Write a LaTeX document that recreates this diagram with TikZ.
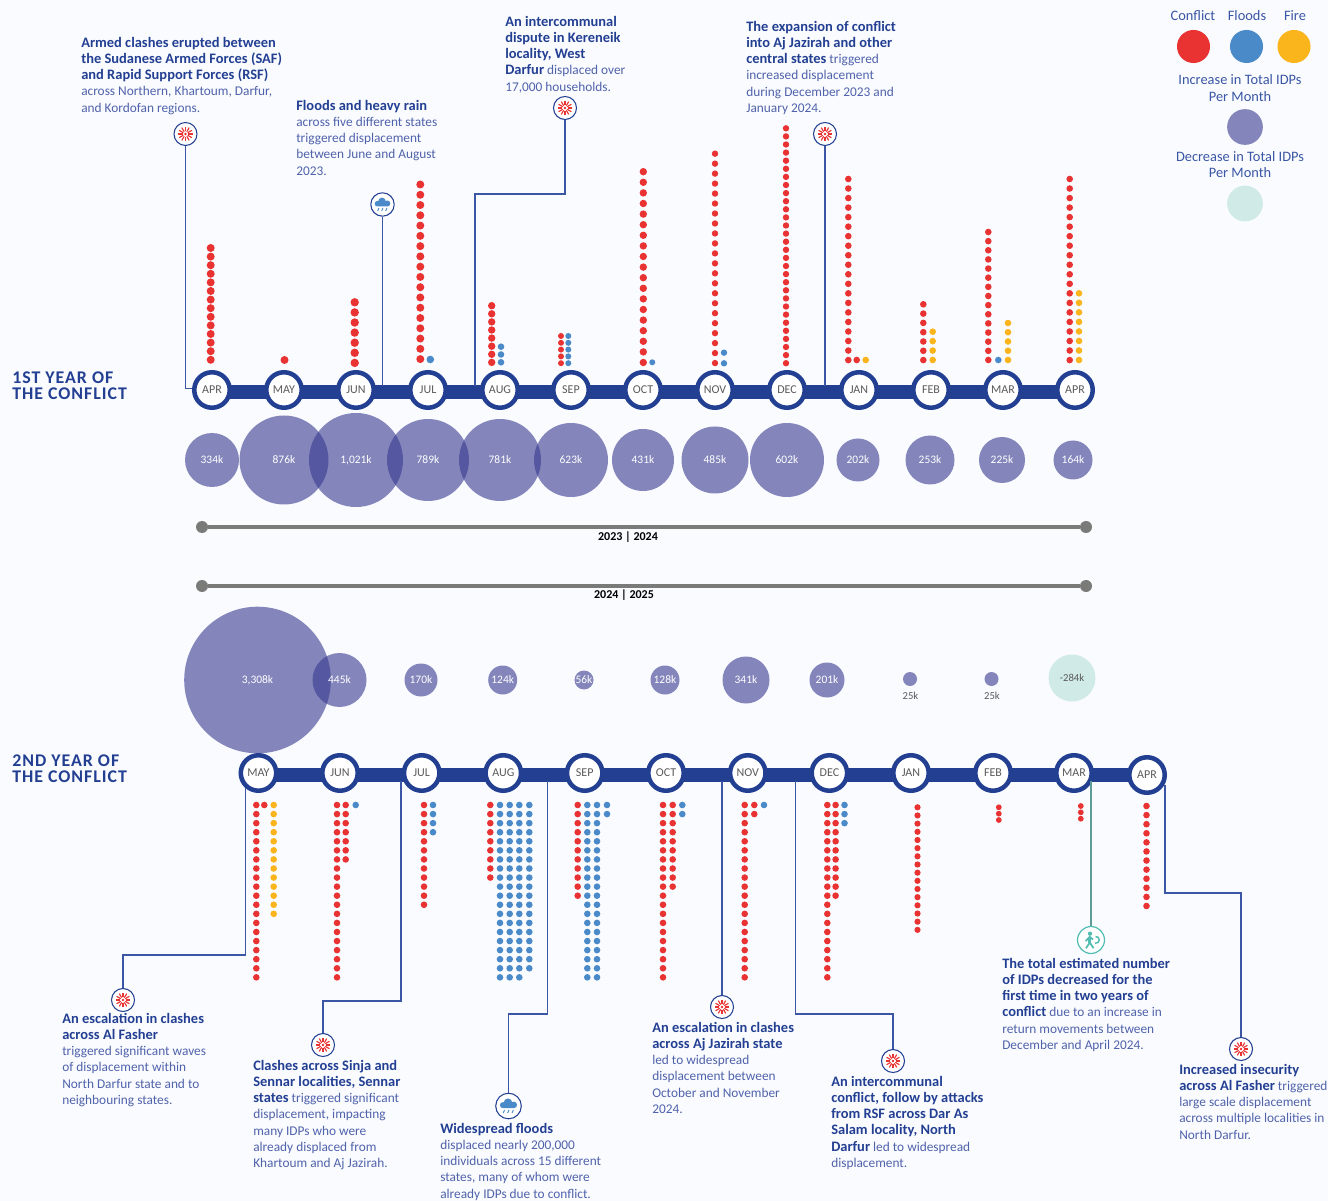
\documentclass[tikz,border=0pt]{standalone}
\usepackage{fontspec}
\setmainfont{Carlito}
\usetikzlibrary{backgrounds}
\definecolor{pagebg}{HTML}{F9FBFF}
\definecolor{navy}{HTML}{233F92}
\definecolor{bodyblue}{HTML}{5062AA}
\definecolor{linkblue}{HTML}{3A56A4}
\definecolor{bubble}{HTML}{36388F}
\definecolor{mint}{HTML}{CFEAE7}
\definecolor{teal1}{HTML}{5E9C9A}
\definecolor{teal2}{HTML}{52BDB0}
\definecolor{rd}{HTML}{E93333}
\definecolor{bl}{HTML}{4A8AC9}
\definecolor{yl}{HTML}{FAB41C}
\definecolor{graybar}{HTML}{7A7A78}
\definecolor{monthgray}{HTML}{5A5A5A}
\tikzset{
  x=0.75pt,y=-0.75pt,
  monthnode/.style={circle,draw=navy,line width=3.4pt,fill=white,minimum size=26.6pt,inner sep=0pt,text=monthgray,font=\fontsize{9}{10}\selectfont},
  barseg/.style={draw=navy,line width=10.2pt},
  bub/.style={circle,fill=bubble,fill opacity=.6,text opacity=1,text=white,minimum size={#1*1.5pt},inner sep=0pt,font=\fontsize{8.6}{10}\selectfont},
  conn/.style={draw=linkblue,line width=.9pt},
  connt/.style={draw=teal1,line width=1.3pt},
  iconnode/.style={circle,draw=navy,line width=.8pt,fill=white,minimum size={#1*1.5pt},inner sep=0pt},
  txt/.style={anchor=north west,inner sep=0pt,align=left,text=bodyblue,font=\fontsize{10}{12.2}\selectfont},
  head/.style={anchor=west,inner sep=0pt,align=left,text=navy,font=\fontsize{13.4}{12.2}\selectfont\bfseries\addfontfeatures{LetterSpace=5.5}},
  leg/.style={inner sep=0pt,align=center,text=linkblue,font=\fontsize{10.8}{12.4}\selectfont},
  yearbar/.style={draw=graybar,line width=3pt},
  yearend/.style={circle,fill=graybar,minimum size=9pt,inner sep=0pt},
  yearlab/.style={inner sep=0pt,text=black,font=\fontsize{9}{10}\selectfont\bfseries},
}
\newcommand{\B}[1]{{\fontsize{10.85}{12.2}\selectfont\bfseries\textcolor{navy}{#1}}}
\newcommand{\dotcol}[6]{\foreach \ii in {1,...,#4}{\fill[#6] (#1,{#2+(\ii-1)*#3}) circle[radius={#5*0.75pt}];}}
\newcommand{\bubb}[5]{\node[bub=#4] (#1) at (#2,#3) {\makebox[0pt]{#5}};}
\newcommand{\burst}[3]{\node[iconnode=11.5] (#1) at (#2,#3) {};
  \foreach \aa in {0,30,...,330}{\draw[rd,line width=.85pt] ([shift={(\aa:2.6)}]#1.center) -- ([shift={(\aa:7.4)}]#1.center);}
  \fill[rd] (#1.center) circle[radius=1pt];}
\newcommand{\rain}[5]{\node[iconnode=#4] (#1) at (#2,#3) {};
  \begin{scope}[shift={(#1.center)},scale=#5]
   \fill[bl] (-5,-.8) circle[radius=2.1pt] (-.5,-3) circle[radius=2.9pt] (4.8,-1) circle[radius=2.25pt] (-5,-.5) rectangle (5,2);
   \draw[bl,line width=.7pt] (-3.6,3.6) -- (-4.8,6.4) (.4,3.6) -- (-.8,6.4) (4.4,3.6) -- (3.2,6.4);
  \end{scope}}
\begin{document}
\begin{tikzpicture}
\useasboundingbox (0,0) rectangle (1328,1201);
\begin{scope}[on background layer]
\fill[pagebg] (0,0) rectangle (1328,1201);
\end{scope}
% ---------- first timeline
\foreach \n/\xx/\t in {1/212/APR,2/284/MAY,3/356/JUN,4/428/JUL,5/500/AUG,6/571/SEP,7/643/OCT,8/715/NOV,9/787/DEC,10/859/JAN,11/931/FEB,12/1003/MAR,13/1075/APR}
  {\node[monthnode] (a\n) at (\xx,390) {\t};}
\begin{scope}[on background layer]
\foreach \p/\q in {1/2,2/3,3/4,4/5,5/6,6/7,7/8,8/9,9/10,10/11,11/12,12/13}
  {\draw[barseg] ([yshift=-1.3pt]a\p.center) -- ([yshift=-1.3pt]a\q.center);}
\end{scope}
% ---------- second timeline
\foreach \n/\xx/\t in {1/258.5/MAY,2/340/JUN,3/421.7/JUL,4/503.3/AUG,5/584.7/SEP,6/666/OCT,7/747.8/NOV,8/829.4/DEC,9/911/JAN,10/993/FEB,11/1074/MAR}
  {\node[monthnode] (c\n) at (\xx,773) {\t};}
\node[monthnode] (c12) at (1147,775) {APR};
\begin{scope}[on background layer]
\foreach \p/\q in {1/2,2/3,3/4,4/5,5/6,6/7,7/8,8/9,9/10,10/11,11/12}
  {\draw[barseg] ([yshift=-1.5pt]c\p.center) -- ([yshift=-1.5pt]c\p.center -| c\q.center);}
\end{scope}
% ---------- headings
\node[head] (h1) at (12,386) {1ST YEAR OF\\THE CONFLICT};
\node[head] (h2) at (12,769) {2ND YEAR OF\\THE CONFLICT};
% ---------- bubbles year 1
\bubb{b1}{212}{460}{27}{334k}
\bubb{b2}{284}{460}{44.5}{876k}
\bubb{b3}{356}{460}{47}{1,021k}
\bubb{b4}{428}{460}{41}{789k}
\bubb{b5}{500}{460}{41}{781k}
\bubb{b6}{571}{460}{37}{623k}
\bubb{b7}{643}{460}{31}{431k}
\bubb{b8}{715}{460}{33.5}{485k}
\bubb{b9}{787}{460}{37}{602k}
\bubb{b10}{858}{460}{21.5}{202k}
\bubb{b11}{930}{460}{24.5}{253k}
\bubb{b12}{1002}{460}{23}{225k}
\bubb{b13}{1073}{460}{19.5}{164k}
% ---------- bubbles year 2
\bubb{d1}{257.5}{680}{73.3}{3,308k}
\bubb{d2}{339.5}{680}{27}{445k}
\bubb{d3}{421}{680}{16.5}{170k}
\bubb{d4}{502.7}{680}{14.5}{124k}
\bubb{d5}{584}{680}{9.5}{56k}
\bubb{d6}{665}{680}{14.5}{128k}
\bubb{d7}{746}{680}{23.5}{341k}
\bubb{d8}{827}{680}{17.5}{201k}
\bubb{d9}{910}{679}{7}{}
\bubb{d10}{991.5}{679}{7}{}
\node[inner sep=0pt,text=monthgray,font=\fontsize{8}{10}\selectfont] (e9) at (910.5,695.5) {25k};
\node[inner sep=0pt,text=monthgray,font=\fontsize{8}{10}\selectfont] (e10) at (992,695.5) {25k};
\node[circle,fill=mint,minimum size=35.2pt,inner sep=0pt,text=monthgray,font=\fontsize{8}{10}\selectfont] (d11) at (1072,678) {\makebox[0pt]{-284k}};
% ---------- year bars
\node[yearend] (y1a) at (202,527) {};
\node[yearend] (y1b) at (1086,527) {};
\draw[yearbar] (y1a) -- (y1b);
\node[yearlab] (y1l) at (628,537) {2023 | 2024};
\node[yearend] (y2a) at (202,586) {};
\node[yearend] (y2b) at (1086,586) {};
\draw[yearbar] (y2a) -- (y2b);
\node[yearlab] (y2l) at (624,595) {2024 | 2025};
% ---------- dots year 1
\dotcol{210.7}{248}{8.6}{14}{4}{rd}
\dotcol{284.5}{360}{0}{1}{4}{rd}
\dotcol{354.7}{302.3}{10.1}{7}{4.2}{rd}
\dotcol{420.3}{184.5}{10.27}{18}{4}{rd}
\dotcol{430.3}{359.5}{0}{1}{3.8}{bl}
\dotcol{491.7}{305.7}{8.1}{8}{3.7}{rd}
\dotcol{501}{346.7}{7.8}{3}{3.3}{bl}
\dotcol{561}{336}{6.8}{5}{3}{rd}
\dotcol{568.3}{336}{6.8}{5}{3}{bl}
\dotcol{643.3}{171.7}{10.6}{19}{3.7}{rd}
\dotcol{652.3}{362.3}{0}{1}{3}{bl}
\dotcol{715}{153.7}{9.97}{22}{3.2}{rd}
\dotcol{724}{352.7}{10.6}{2}{3.2}{bl}
\dotcol{786}{128.3}{8.1}{30}{3.2}{rd}
\dotcol{848.3}{179}{9.53}{20}{3.3}{rd}
\dotcol{856.7}{360}{0}{1}{3.3}{rd}
\dotcol{865.7}{360}{0}{1}{3.3}{yl}
\dotcol{923.3}{304.3}{9.3}{7}{3.3}{rd}
\dotcol{932.7}{331.7}{9.43}{4}{3.3}{yl}
\dotcol{988.3}{232}{9.14}{15}{3.3}{rd}
\dotcol{998.3}{360}{0}{1}{3.3}{bl}
\dotcol{1008}{323}{9.25}{5}{3.3}{yl}
\dotcol{1069.7}{179}{9.53}{20}{3.3}{rd}
\dotcol{1079}{293.3}{9.53}{8}{3.3}{yl}
% ---------- dots year 2
\dotcol{256.3}{805}{9.07}{20}{3.3}{rd}
\dotcol{264.3}{805}{0}{1}{3.3}{rd}
\dotcol{273.7}{805}{9.07}{13}{3.3}{yl}
\dotcol{337}{805}{9.07}{20}{3.3}{rd}
\dotcol{345.7}{805}{9.07}{7}{3.3}{rd}
\dotcol{355.7}{805}{0}{1}{3.3}{bl}
\dotcol{424}{805}{9.07}{12}{3.3}{rd}
\dotcol{433}{805}{9.07}{4}{3.3}{bl}
\dotcol{490.3}{805}{9.07}{9}{3.3}{rd}
\dotcol{500}{805}{9.07}{20}{3.3}{bl}
\dotcol{509.7}{805}{9.07}{20}{3.3}{bl}
\dotcol{519.3}{805}{9.07}{20}{3.3}{bl}
\dotcol{529.3}{805}{9.07}{19}{3.3}{bl}
\dotcol{577.7}{805}{9.07}{11}{3.3}{rd}
\dotcol{587.3}{805}{9.07}{20}{3.3}{bl}
\dotcol{597}{805}{9.07}{20}{3.3}{bl}
\dotcol{607}{805}{9.07}{2}{3.3}{bl}
\dotcol{663}{805}{9.07}{20}{3.3}{rd}
\dotcol{672.7}{805}{9.07}{10}{3.3}{rd}
\dotcol{682.3}{805}{9.07}{2}{3.3}{bl}
\dotcol{744.7}{805}{9.07}{20}{3.3}{rd}
\dotcol{754.3}{805}{9.07}{2}{3.3}{rd}
\dotcol{764}{805}{0}{1}{3.3}{bl}
\dotcol{827.3}{805}{9.07}{20}{3.3}{rd}
\dotcol{835.6}{805}{9.07}{11}{3.3}{rd}
\dotcol{844.5}{805}{9.07}{3}{3.3}{bl}
\dotcol{917.5}{807.3}{8.17}{16}{3.1}{rd}
\dotcol{998.8}{807.3}{6.35}{3}{2.9}{rd}
\dotcol{1080.8}{806}{6.35}{3}{2.9}{rd}
\dotcol{1146.5}{806}{9.09}{12}{3.3}{rd}
% ---------- icons
\burst{i1}{185.5}{134}
\rain{i2}{382.5}{204.5}{11.7}{1}
\burst{i3}{565}{108}
\burst{i4}{825}{134}
\burst{i5}{123}{1000}
\burst{i6}{323}{1045}
\rain{i7}{508.5}{1106}{12.8}{1.1}
\burst{i8}{722}{1007}
\burst{i9}{893}{1061}
\burst{i10}{1241}{1049}
\node[circle,draw=teal2,line width=.9pt,fill=white,minimum size=20.2pt,inner sep=0pt] (i11) at (1091,940) {};
\begin{scope}[shift={(i11.center)}]
 \fill[teal2] (-1,-6.3) circle[radius=1.6pt];
 \draw[teal2,line width=2pt] (-1.2,-3) -- (-1.2,2.5);
 \draw[teal2,line width=1.3pt] (-1.2,2.5) -- (-5,8.2) (-1.2,2.5) -- (2.5,8.2) (-5.5,1) -- (-1.2,-3.2) -- (2,-.5);
 \draw[teal2,line width=1.1pt] (4.5,-3.5) .. controls (9.5,-4) and (9.5,4) .. (4,3.2);
\end{scope}
% ---------- connectors year 1
\draw[conn] (i1.south) |- ([yshift=1.2pt]a1.west);
\coordinate (j2) at (382.5,386);
\draw[conn] (i2.south) -- (j2);
\coordinate (k3) at (475,194);
\coordinate (j3) at (475,386);
\draw[conn] (i3.south) |- (k3) -- (j3);
\coordinate (j4) at (825,386);
\draw[conn] (i4.south) -- (j4);
% ---------- connectors year 2
\coordinate (j5) at (245.7,788);
\coordinate (k5) at (123,955);
\draw[conn] (j5) |- (k5) -- (i5.north);
\coordinate (j6) at (401,781);
\coordinate (k6) at (323,1001);
\draw[conn] (j6) |- (k6) -- (i6.north);
\coordinate (j7) at (547.7,781);
\coordinate (k7) at (508.5,1014);
\draw[conn] (j7) |- (k7) -- (i7.north);
\coordinate (j8) at (722,781);
\draw[conn] (j8) -- (i8.north);
\coordinate (j9) at (795.6,781);
\coordinate (k9) at (893,1014);
\draw[conn] (j9) |- (k9) -- (i9.north);
\coordinate (j10) at (1091,781);
\draw[connt] (j10) -- (i11.north);
\coordinate (j11) at (1165,785);
\coordinate (k11) at (1241,893);
\draw[conn] (j11) |- (k11) -- (i10.north);
% ---------- text blocks
\newcommand{\tblock}[4]{\node[txt] (#1) at (#2,{#3-6.6}) {\strut#4};}
\tblock{t1}{81}{42}{\B{Armed clashes erupted between}\\\B{the Sudanese Armed Forces (SAF)}\\\B{and Rapid Support Forces (RSF)}\\across Northern, Khartoum, Darfur,\\and Kordofan regions.}
\tblock{t2}{296}{105}{\B{Floods and heavy rain}\\across five different states\\triggered displacement\\between June and August\\2023.}
\tblock{t3}{505}{21}{\B{An intercommunal}\\\B{dispute in Kereneik}\\\B{locality, West}\\\B{Darfur} displaced over\\17,000 households.}
\tblock{t4}{746}{26}{\B{The expansion of conflict}\\\B{into Aj Jazirah and other}\\\B{central states} triggered\\increased displacement\\during December 2023 and\\January 2024.}
\tblock{t5}{62}{1018}{\B{An escalation in clashes}\\\B{across Al Fasher}\\triggered significant waves\\of displacement within\\North Darfur state and to\\neighbouring states.}
\tblock{t6}{253}{1065}{\B{Clashes across Sinja and}\\\B{Sennar localities, Sennar}\\\B{states} triggered significant\\displacement, impacting\\many IDPs who were\\already displaced from\\Khartoum and Aj Jazirah.}
\tblock{t7}{440}{1128}{\B{Widespread floods}\\displaced nearly 200,000\\individuals across 15 different\\states, many of whom were\\already IDPs due to conflict.}
\tblock{t8}{652}{1027}{\B{An escalation in clashes}\\\B{across Aj Jazirah state}\\led to widespread\\displacement between\\October and November\\2024.}
\tblock{t9}{831}{1081}{\B{An intercommunal}\\\B{conflict, follow by attacks}\\\B{from RSF across Dar As}\\\B{Salam locality, North}\\\B{Darfur} led to widespread\\displacement.}
\tblock{t10}{1002}{963}{\B{The total estimated number}\\\B{of IDPs decreased for the}\\\B{first time in two years of}\\\B{conflict} due to an increase in\\return movements between\\December and April 2024.}
\tblock{t11}{1179}{1069}{\B{Increased insecurity}\\\B{across Al Fasher} triggered\\large scale displacement\\across multiple localities in\\North Darfur.}
% ---------- legend
\node[leg] (l1) at (1193,16) {Conflict};
\node[leg] (l2) at (1247,16) {Floods};
\node[leg] (l3) at (1295,16) {Fire};
\fill[rd] (1193.5,46.5) circle[radius=12.4pt];
\fill[bl] (1246.5,46.5) circle[radius=12.4pt];
\fill[yl] (1294,46.5) circle[radius=12.4pt];
\node[leg] (l4) at (1240,88) {Increase in Total IDPs\\Per Month};
\fill[bubble,fill opacity=.6] (1245,127) circle[radius=13.4pt];
\node[leg] (l5) at (1240,164.5) {Decrease in Total IDPs\\Per Month};
\fill[mint] (1245,203.5) circle[radius=13.4pt];
\end{tikzpicture}
\end{document}
